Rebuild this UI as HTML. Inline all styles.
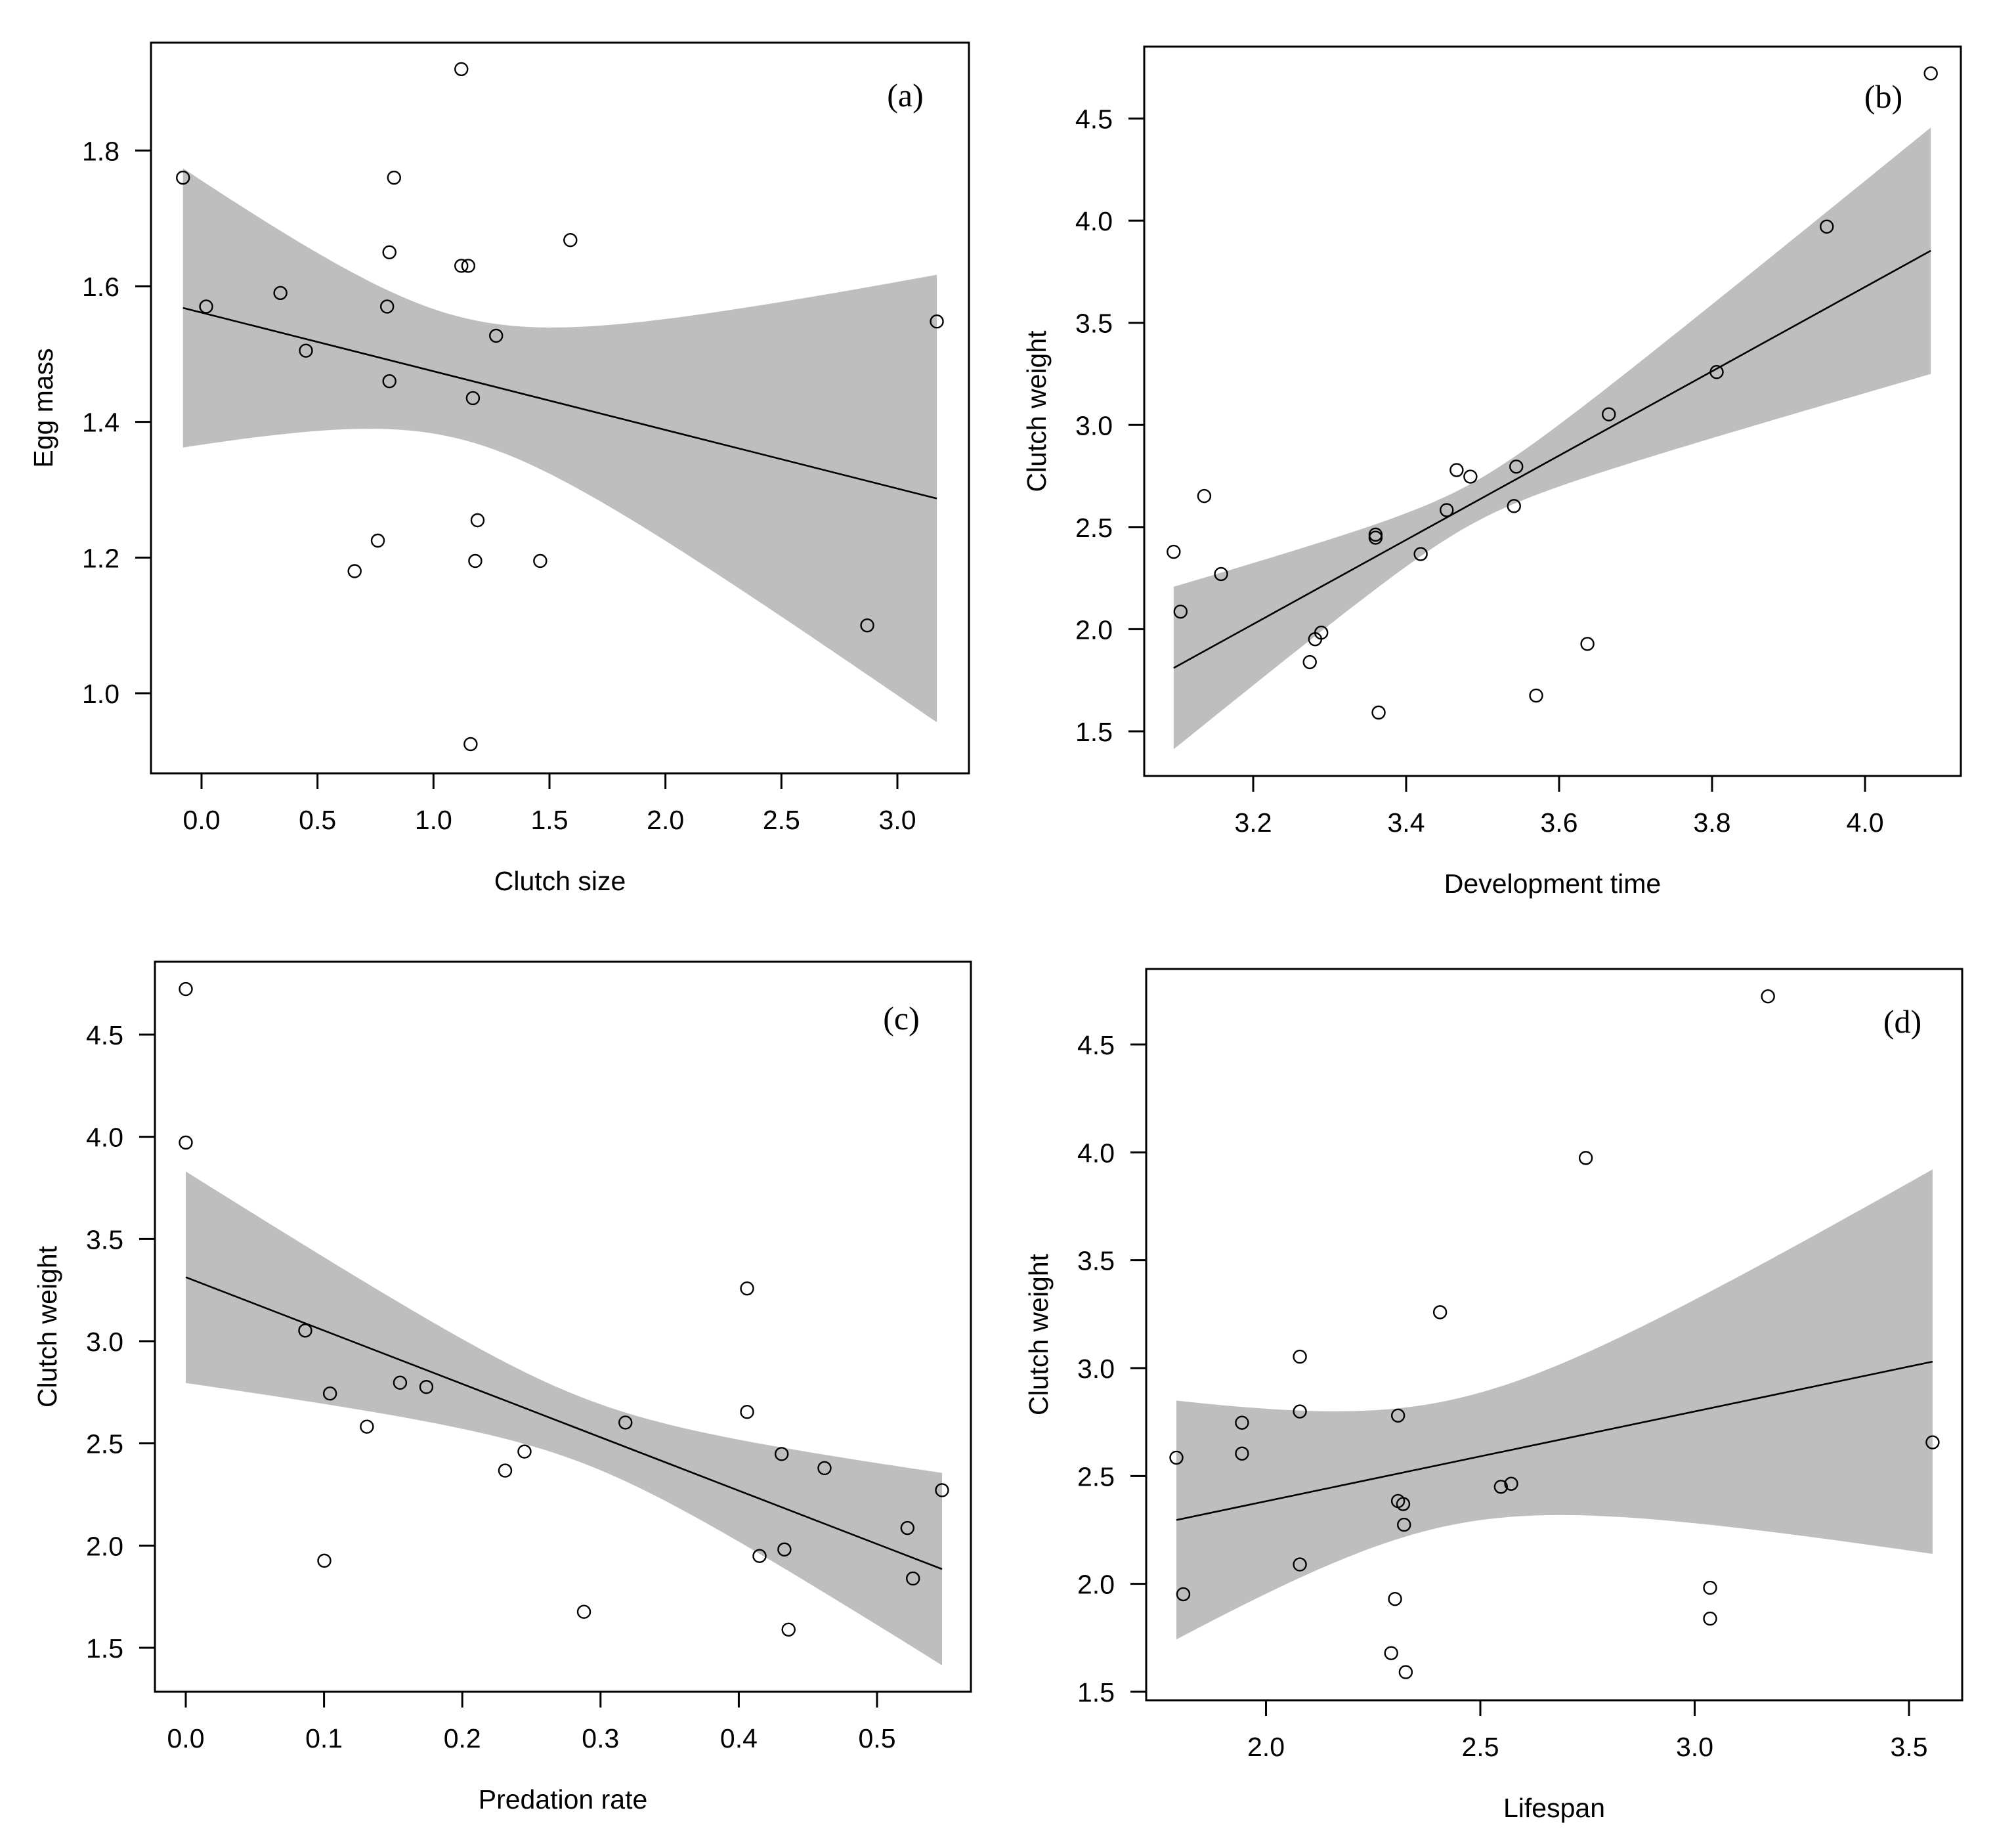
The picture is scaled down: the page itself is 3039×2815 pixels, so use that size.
<!DOCTYPE html>
<html><head><meta charset="utf-8"><style>
html,body{margin:0;padding:0;background:#fff;}
svg{display:block;}
text{font-family:"Liberation Sans",sans-serif;fill:#000;}
.lbl{font-family:"Liberation Serif",serif;}
</style></head>
<body>
<svg id="fig" width="3039" height="2815" viewBox="0 0 3039 2815" xmlns="http://www.w3.org/2000/svg"></svg>
<script>
// Panel (a) data
const aX = [-0.08,0.02,0.34,0.45,0.66,0.76,0.80,0.81,0.81,0.83,1.12,1.12,1.15,1.16,1.17,1.18,1.19,1.27,1.46,1.59,2.87,3.17];
const aY = [1.76,1.57,1.59,1.505,1.18,1.225,1.57,1.65,1.46,1.76,1.92,1.63,1.63,0.925,1.435,1.195,1.255,1.527,1.195,1.668,1.10,1.548];
const aXTicks = [0.0,0.5,1.0,1.5,2.0,2.5,3.0];
const aXTickLabels = ["0.0","0.5","1.0","1.5","2.0","2.5","3.0"];
const aYTicks = [1.0,1.2,1.4,1.6,1.8];
const aYTickLabels = ["1.0","1.2","1.4","1.6","1.8"];
const aFit = [-0.08,3.17,1.568,1.287];      // x0,x1,y0,y1
const aBand = [1.117,0.09,0.0239];          // xm,h0,k
// Panel (b) data
const bX = [3.096,3.105,3.136,3.158,3.274,3.281,3.289,3.360,3.360,3.364,3.419,3.453,3.466,3.484,3.541,3.544,3.570,3.637,3.665,3.806,3.950,4.086];
const bY = [2.379,2.086,2.652,2.270,1.839,1.951,1.983,2.463,2.448,1.592,2.368,2.583,2.779,2.747,2.603,2.796,1.675,1.928,3.052,3.259,3.971,4.721];
const bXTicks = [3.2,3.4,3.6,3.8,4.0];
const bXTickLabels = ["3.2","3.4","3.6","3.8","4.0"];
const bYTicks = [1.5,2.0,2.5,3.0,3.5,4.0,4.5];
const bYTickLabels = ["1.5","2.0","2.5","3.0","3.5","4.0","4.5"];
const bFit = [3.096,4.086,1.81,3.853];
const bBand = [3.485,0.10,0.98];
// Panel (c) data
const cX = [0.0,0.0,0.0864,0.1002,0.1043,0.131,0.155,0.174,0.231,0.245,0.288,0.318,0.406,0.406,0.415,0.431,0.433,0.436,0.462,0.522,0.526,0.547];
const cY = [4.723,3.972,3.052,1.926,2.744,2.582,2.797,2.776,2.367,2.460,1.676,2.602,3.258,2.654,1.949,2.448,1.981,1.589,2.379,2.086,1.839,2.271];
const cXTicks = [0.0,0.1,0.2,0.3,0.4,0.5];
const cXTickLabels = ["0.0","0.1","0.2","0.3","0.4","0.5"];
const cYTicks = [1.5,2.0,2.5,3.0,3.5,4.0,4.5];
const cYTickLabels = ["1.5","2.0","2.5","3.0","3.5","4.0","4.5"];
const cFit = [0.0,0.547,3.313,1.885];
const cBand = [0.288,0.16,2.92];
// Panel (d) data
const dX = [1.791,1.807,1.944,1.944,2.079,2.079,2.079,2.292,2.301,2.308,2.308,2.320,2.322,2.326,2.406,2.548,2.572,2.746,3.036,3.036,3.171,3.555];
const dY = [2.585,1.952,2.747,2.604,3.053,2.799,2.090,1.679,1.930,2.780,2.384,2.370,2.274,1.591,3.259,2.450,2.464,3.974,1.982,1.839,4.723,2.656];
const dXTicks = [2.0,2.5,3.0,3.5];
const dXTickLabels = ["2.0","2.5","3.0","3.5"];
const dYTicks = [1.5,2.0,2.5,3.0,3.5,4.0,4.5];
const dYTickLabels = ["1.5","2.0","2.5","3.0","3.5","4.0","4.5"];
const dFit = [1.791,3.555,2.296,3.030];
const dBand = [2.424,0.29,0.555];

const NS = "http://www.w3.org/2000/svg";
const svg = document.getElementById('fig');
function mk(tag, attrs, parent){
  const e = document.createElementNS(NS, tag);
  for (const k in attrs) e.setAttribute(k, attrs[k]);
  parent.appendChild(e); return e;
}

const panels = [
  {id:'a', tag:'(a)', X:aX, Y:aY, xt:aXTicks, xl:aXTickLabels, yt:aYTicks, yl:aYTickLabels, fit:aFit, band:aBand,
   box:[230,1476,65,1178], xa:[0,307,3,1367], ya:[1.8,229.3,1.0,1056], xt_title:'Clutch size', yt_title:'Egg mass', tagPos:[1379,162]},
  {id:'b', tag:'(b)', X:bX, Y:bY, xt:bXTicks, xl:bXTickLabels, yt:bYTicks, yl:bYTickLabels, fit:bFit, band:bBand,
   box:[1743,2987,71,1182], xa:[3.2,1909,4.0,2841], ya:[4.5,180.6,1.5,1114], xt_title:'Development time', yt_title:'Clutch weight', tagPos:[2869,164]},
  {id:'c', tag:'(c)', X:cX, Y:cY, xt:cXTicks, xl:cXTickLabels, yt:cYTicks, yl:cYTickLabels, fit:cFit, band:cBand,
   box:[236,1479,1465,2577], xa:[0,283,0.5,1336], ya:[4.5,1576,1.5,2510], xt_title:'Predation rate', yt_title:'Clutch weight', tagPos:[1373,1568]},
  {id:'d', tag:'(d)', X:dX, Y:dY, xt:dXTicks, xl:dXTickLabels, yt:dYTicks, yl:dYTickLabels, fit:dFit, band:dBand,
   box:[1746,2989,1476,2590], xa:[2.0,1928.5,3.5,2908], ya:[4.5,1591,1.5,2577], xt_title:'Lifespan', yt_title:'Clutch weight', tagPos:[2898,1573]}
];

panels.forEach(p => {
  const g = mk('g', {}, svg);
  
  
  const [L,R,T,B] = p.box;
  const sx = v => p.xa[1] + (v - p.xa[0]) * (p.xa[3] - p.xa[1]) / (p.xa[2] - p.xa[0]);
  const sy = v => p.ya[1] + (v - p.ya[0]) * (p.ya[3] - p.ya[1]) / (p.ya[2] - p.ya[0]);

  const [x0,x1,y0,y1] = p.fit;
  const [xm,h0,k] = p.band;
  const line = x => y0 + (y1 - y0) * (x - x0) / (x1 - x0);
  const hw = x => Math.sqrt(h0*h0 + k*(x - xm)*(x - xm));
  const N = 80, up = [], lo = [];
  for (let i = 0; i <= N; i++) {
    const x = x0 + (x1 - x0) * i / N;
    up.push(sx(x).toFixed(1) + ',' + sy(line(x) + hw(x)).toFixed(1));
    lo.push(sx(x).toFixed(1) + ',' + sy(line(x) - hw(x)).toFixed(1));
  }
  const band = mk('polygon', {points: up.concat(lo.reverse()).join(' '), fill:'#bebebe', stroke:'none'}, g);
  
  

  const fl = mk('line', {x1:sx(x0), y1:sy(y0), x2:sx(x1), y2:sy(y1), stroke:'#000', 'stroke-width':2.6}, g);
  
  

  p.X.forEach((xv, i) => {
    const c = mk('circle', {cx:sx(xv), cy:sy(p.Y[i]), r:9.5, fill:'none', stroke:'#000', 'stroke-width':2.4}, g);
    
    
  });

  const fr = mk('rect', {x:L, y:T, width:R-L, height:B-T, fill:'none', stroke:'#000', 'stroke-width':3}, g);
  
  

  p.xt.forEach((v, i) => {
    const X = sx(v);
    const t = mk('line', {x1:X, y1:B, x2:X, y2:B+24, stroke:'#000', 'stroke-width':3}, g);
    
    
    const tx = mk('text', {x:X, y:B+85, 'font-size':41, 'text-anchor':'middle'}, g);
    tx.textContent = p.xl[i];
    
    
  });
  p.yt.forEach((v, i) => {
    const Y = sy(v);
    const t = mk('line', {x1:L-24, y1:Y, x2:L, y2:Y, stroke:'#000', 'stroke-width':3}, g);
    
    
    const tx = mk('text', {x:L-48, y:Y+15, 'font-size':41, 'text-anchor':'end'}, g);
    tx.textContent = p.yl[i];
    
    
  });
  const xt = mk('text', {x:(L+R)/2, y:B+178, 'font-size':41, 'text-anchor':'middle'}, g);
  xt.textContent = p.xt_title;
  
  
  const yx = L - 150, yy = (T+B)/2;
  const yt = mk('text', {x:yx, y:yy, 'font-size':41, 'text-anchor':'middle', transform:'rotate(-90 '+yx+' '+yy+')'}, g);
  yt.textContent = p.yt_title;
  
  
  const tg = mk('text', {x:p.tagPos[0], y:p.tagPos[1], 'font-size':50, 'text-anchor':'middle', class:'lbl'}, g);
  tg.textContent = p.tag;
  
  
});
</script>
</body></html>
